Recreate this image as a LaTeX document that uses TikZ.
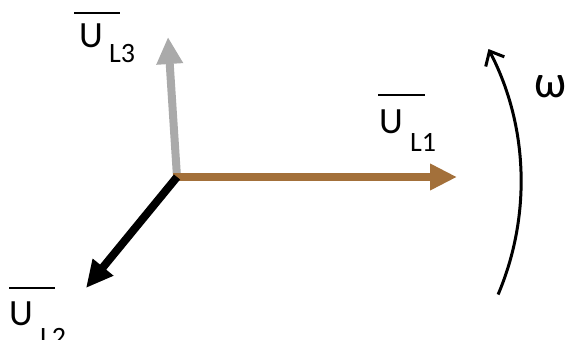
\documentclass[tikz,border=0pt]{standalone}
\usepackage{fontspec}
\setmainfont{Carlito}
\usetikzlibrary{arrows.meta}
\definecolor{brownv}{RGB}{163,112,58}
\definecolor{grayv}{RGB}{170,170,170}
\tikzset{
  mainlbl/.style={inner sep=0pt, anchor=base west, font=\fontsize{37}{37}\selectfont},
  sublbl/.style={inner sep=0pt, anchor=base west, font=\fontsize{28}{28}\selectfont},
  omegalbl/.style={inner sep=0pt, anchor=base west, font=\fontsize{46}{46}\selectfont},
  barline/.style={line width=2pt},
  phasor/.style={line width=8pt, -{Triangle[length=27pt,width=25pt]}},
  rot/.style={line width=3pt, -{Straight Barb[length=12pt,width=21pt]}}
}
\begin{document}
\begin{tikzpicture}[x=1pt,y=-1pt]
\useasboundingbox (0,0) rectangle (566,340);
\coordinate (o) at (177,177);
\coordinate (t1) at (457,177);
\coordinate (t2) at (86,288);
\coordinate (t3) at (168,37);
% phasors
\draw[phasor, grayv] (o) -- (t3);
\draw[phasor, brownv] ([xshift=-4pt]o) -- (t1);
\draw[phasor, black] (o) -- (t2);
% labels
\node[mainlbl] (u3) at (79,48) {U};
\node[sublbl] (s3) at (109,62) {L3};
\draw[barline] (74,13) -- (120,13);
\node[mainlbl] (u1) at (379,133) {U};
\node[sublbl] (s1) at (410,151) {L1};
\draw[barline] (378,95) -- (425,95);
\node[mainlbl] (u2) at (9,325) {U};
\node[sublbl] (s2) at (40,346) {L2};
\draw[barline] (9,288) -- (55,288);
% rotation
\coordinate (c) at (233,182);
\draw[rot] (c) ++(23:288) arc[start angle=23, end angle=-27.5, radius=288];
\node[omegalbl] (w) at (534,97) {ω};
\end{tikzpicture}
\end{document}
